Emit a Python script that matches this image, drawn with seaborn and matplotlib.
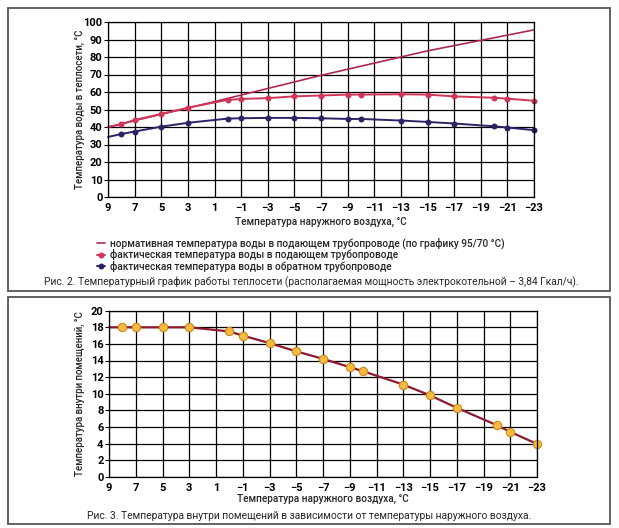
import matplotlib
matplotlib.use("Agg")
import matplotlib.pyplot as plt
from matplotlib.patches import Rectangle
import seaborn as sns

# outdoor air temperature (x) for fig. 2
norm_x = [9, 1, -7, -15, -23]
norm_y = [40, 54.5, 69.5, 83.5, 95.5]

supply_x = [9, 8, 7, 5, 3, 0, -1, -3, -5, -7, -9, -10, -13, -15, -17, -20, -21, -23]
supply_y = [40, 41.5, 44, 47.5, 51, 55.5, 56, 56.5, 57.5, 58, 58.5, 58.5, 58.7, 58.5, 57.5, 56.7, 56.2, 55]

return_x = [9, 8, 7, 5, 3, 0, -1, -3, -5, -7, -9, -10, -13, -15, -17, -20, -21, -23]
return_y = [34.3, 36, 37.4, 40.2, 42.4, 44.8, 45, 45.2, 45.2, 45, 44.6, 44.6, 43.7, 42.9, 42, 40.4, 39.7, 38.2]

# indoor temperature for fig. 3
indoor_x = [9, 8, 7, 5, 3, 0, -1, -3, -5, -7, -9, -10, -13, -15, -17, -20, -21, -23]
indoor_y = [18, 18, 18, 18, 18, 17.5, 17, 16.1, 15.1, 14.2, 13.2, 12.7, 11.1, 9.8, 8.3, 6.2, 5.4, 3.95]

x_ticks = list(range(9, -24, -2))

sns.set_style("white")
plt.rcParams['font.family'] = ['Roboto', 'DejaVu Sans']
plt.rcParams['axes.unicode_minus'] = True

fig = plt.figure(figsize=(6.19, 5.28), dpi=100)

# frames around the two figures
fig.patches.append(Rectangle((8/619, 1-291/528), 602/619, 283/528, transform=fig.transFigure,
                             fill=False, edgecolor='#555555', linewidth=1.3))
fig.patches.append(Rectangle((8/619, 1-524/528), 602/619, 227/528, transform=fig.transFigure,
                             fill=False, edgecolor='#555555', linewidth=1.3))


def style_axes(ax, ymax, ystep, xpad):
	ax.set_xlim(9, -23)
	ax.set_ylim(0, ymax)
	ax.set_xticks(x_ticks)
	ax.set_xticklabels([('\u2212%d' % -t) if t < 0 else str(t) for t in x_ticks])
	ax.set_yticks(range(0, ymax + 1, ystep))
	ax.grid(True, color='black', linewidth=0.9)
	for s in ax.spines.values():
		s.set_color('black')
		s.set_linewidth(0.9)
	ax.tick_params(axis='both', labelsize=8, length=3, width=0.8, pad=1, colors='black', left=True, bottom=False)
	ax.tick_params(axis='x', pad=1.5)
	for lab in ax.get_xticklabels() + ax.get_yticklabels():
		lab.set_fontweight('bold')
	ax.set_xlabel('Температура наружного воздуха, °C', fontsize=7.2, fontweight='medium', labelpad=xpad)
	for line in ax.get_lines():
		line.set_clip_on(False)


ax1 = fig.add_axes([108/619, 1-197/528, 426/619, 175/528])
sns.lineplot(x=norm_x, y=norm_y, ax=ax1, color='#aa2a50', linewidth=1.2, sort=False,
             label='нормативная температура воды в подающем трубопроводе (по графику 95/70 °C)')
sns.lineplot(x=supply_x, y=supply_y, ax=ax1, color='#d0365a', linewidth=1.4, sort=False,
             marker='o', markersize=4.3, markeredgewidth=0, markevery=slice(1, None),
             label='фактическая температура воды в подающем трубопроводе')
sns.lineplot(x=return_x, y=return_y, ax=ax1, color='#2a2466', linewidth=1.4, sort=False,
             marker='o', markersize=4.3, markeredgewidth=0, markevery=slice(1, None),
             label='фактическая температура воды в обратном трубопроводе')
style_axes(ax1, 100, 10, 3)
ax1.set_ylabel('Температура воды в теплосети, °C', fontsize=7.0, fontweight='medium')
ax1.yaxis.set_label_coords(-0.055, 0.5)
handles, labels = ax1.get_legend_handles_labels()
ax1.get_legend().remove()
fig.legend(handles, labels, loc='upper left', bbox_to_anchor=(93/619, 1-233/528), frameon=False,
           handlelength=0.8, handletextpad=0.5, labelspacing=0.05, borderaxespad=0,
           prop={'weight': 'medium', 'size': 7.3})
fig.text(311/619, 1-282/528,
         'Рис. 2. Температурный график работы теплосети (располагаемая мощность электрокотельной \u2013 3,84 Гкал/ч).',
         ha='center', va='center', fontsize=7.4)

ax2 = fig.add_axes([109/619, 1-476.7/528, 428/619, 166/528])
sns.lineplot(x=indoor_x, y=indoor_y, ax=ax2, color='#8c1a30', linewidth=1.6, sort=False,
             marker='o', markersize=6, markerfacecolor='#f5ba3f', markeredgecolor='#c98a1f',
             markeredgewidth=0.8, markevery=slice(1, None))
style_axes(ax2, 20, 2, 1)
ax2.set_ylabel('Температура внутри помещений, °C', fontsize=7.0, fontweight='medium')
ax2.yaxis.set_label_coords(-0.057, 0.5)
fig.text(309/619, 1-516/528,
         'Рис. 3. Температура внутри помещений в зависимости от температуры наружного воздуха.',
         ha='center', va='center', fontsize=7.4)

fig.savefig('out.png', dpi=100)
